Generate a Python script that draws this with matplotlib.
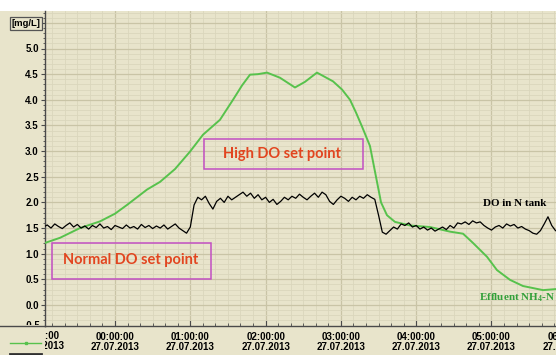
import numpy as np
import matplotlib
matplotlib.use('Agg')
import matplotlib.pyplot as plt
from matplotlib.patches import Rectangle
from matplotlib.lines import Line2D
from matplotlib.transforms import Bbox, TransformedBbox
from matplotlib.ticker import FixedLocator, MultipleLocator

plt.rcParams['mathtext.fontset'] = 'custom'
plt.rcParams['mathtext.rm'] = 'Liberation Serif:bold'
plt.rcParams['mathtext.bf'] = 'Liberation Serif:bold'

# ---------------- data ----------------
# Effluent NH4-N [mg/L], time in hours after 00:00:00 27.07.2013
nh4_time_h = [-0.930, -0.730, -0.465, -0.199, 0.000, 0.159, 0.425, 0.598, 0.797, 0.996,
              1.169, 1.394, 1.567, 1.687, 1.793, 1.899, 2.019, 2.191, 2.390, 2.523,
              2.682, 2.895, 3.015, 3.121, 3.201, 3.280, 3.386, 3.466, 3.533, 3.612,
              3.718, 3.918, 4.183, 4.449, 4.622, 4.754, 4.940, 5.073, 5.246, 5.418,
              5.684, 5.857]
nh4_mgL = [1.21, 1.31, 1.50, 1.63, 1.78, 1.95, 2.25, 2.40, 2.65, 2.99,
           3.32, 3.61, 4.00, 4.28, 4.49, 4.50, 4.53, 4.43, 4.24, 4.35,
           4.53, 4.36, 4.20, 4.00, 3.75, 3.48, 3.10, 2.50, 2.00, 1.75,
           1.62, 1.55, 1.52, 1.43, 1.39, 1.21, 0.94, 0.68, 0.49, 0.37,
           0.29, 0.31]

# DO in N tank [mg/L], sampled every 0.05 h starting at -0.95 h
do_start_h = -0.95
do_step_h = 0.05
do_mgL = [1.52, 1.56, 1.50, 1.58, 1.53, 1.49, 1.55, 1.60, 1.52, 1.57,
          1.50, 1.54, 1.48, 1.55, 1.51, 1.58, 1.50, 1.53, 1.47, 1.55,
          1.52, 1.49, 1.56, 1.50, 1.53, 1.48, 1.57, 1.51, 1.55, 1.49,
          1.54, 1.50, 1.56, 1.48, 1.53, 1.58, 1.50, 1.45, 1.40, 1.52,
          1.95, 2.10, 2.05, 2.12, 1.98, 1.87, 2.02, 2.08, 2.00, 2.12,
          2.05, 2.10, 2.15, 2.20, 2.12, 2.18, 2.08, 2.15, 2.05, 2.10,
          2.00, 2.06, 1.96, 2.02, 2.10, 2.05, 2.12, 2.08, 2.16, 2.10,
          2.05, 2.12, 2.18, 2.10, 2.20, 2.15, 2.02, 1.96, 2.05, 2.12,
          2.08, 2.02, 2.10, 2.05, 2.12, 2.08, 2.15, 2.10, 2.06,
          1.75, 1.42, 1.38, 1.45, 1.52, 1.48, 1.58, 1.55, 1.60, 1.52,
          1.55, 1.48, 1.52, 1.46, 1.50, 1.44, 1.48, 1.52, 1.47, 1.55,
          1.50, 1.60, 1.58, 1.62, 1.57, 1.64, 1.60, 1.62, 1.55, 1.50,
          1.46, 1.52, 1.55, 1.50, 1.58, 1.54, 1.57, 1.50, 1.53, 1.48,
          1.45, 1.40, 1.38, 1.45, 1.58, 1.72, 1.55, 1.45, 1.42]
do_time_h = do_start_h + do_step_h * np.arange(len(do_mgL))

x_tick_hours = [0, 1, 2, 3, 4, 5, 6]
x_tick_labels = ['00:00:00\n27.07.2013', '01:00:00\n27.07.2013', '02:00:00\n27.07.2013',
                 '03:00:00\n27.07.2013', '04:00:00\n27.07.2013', '05:00:00\n27.07.2013',
                 '06:00:00\n27.07.2013']
prev_tick_label = '23:00:00\n26.07.2013'
y_tick_values = [-0.5, 0.0, 0.5, 1.0, 1.5, 2.0, 2.5, 3.0, 3.5, 4.0, 4.5, 5.0, 5.5]
y_unit = '[mg/L]'

# ---------------- style ----------------
W, H = 556, 355
BEIGE = '#e8e4cb'
GRID_MAJ = '#c9c4a6'
GRID_MIN = '#dad6bc'
SPINE = '#4a4a4a'
GREEN = '#57c24c'
TXT_GREEN = '#33a03a'
RED = '#e2451f'
MAGENTA = '#c24fc2'
tick_font = dict(family=['Liberation Sans', 'DejaVu Sans'], weight='bold', size=7)

fig = plt.figure(figsize=(W / 100, H / 100), dpi=100)
fig.patch.set_facecolor('white')
fig.add_artist(Rectangle((0, 0), 1, 1 - 11 / H, transform=fig.transFigure,
                         facecolor=BEIGE, edgecolor='none', zorder=-10))

ax_left, ax_right, ax_top, ax_bot = 45, 620, 11, 326
ax = fig.add_axes([ax_left / W, (H - ax_bot) / H, (ax_right - ax_left) / W, (ax_bot - ax_top) / H])
ax.set_facecolor(BEIGE)

px_per_h = 75.3
x0_px = 115
px_per_unit = 51.3
y0_px = 305
ax.set_xlim((ax_left - x0_px) / px_per_h, (ax_right - x0_px) / px_per_h)
ax.set_ylim((y0_px - ax_bot) / px_per_unit, (y0_px - ax_top) / px_per_unit)

ax.plot(nh4_time_h, nh4_mgL, color=GREEN, lw=1.4, zorder=4)
ax.plot(do_time_h, do_mgL, color='black', lw=0.9, zorder=5)

# ticks & grid
ax.xaxis.set_major_locator(FixedLocator(x_tick_hours))
ax.set_xticklabels(x_tick_labels, **tick_font, linespacing=1.05)
ax.xaxis.set_minor_locator(MultipleLocator(1 / 6))
ax.yaxis.set_major_locator(FixedLocator(y_tick_values))
ax.set_yticklabels(['' if v > 5.2 else f'{v:.1f}' for v in y_tick_values], **tick_font)
ax.yaxis.set_minor_locator(MultipleLocator(0.1))
ax.tick_params(axis='x', which='major', direction='in', length=4, width=0.8, color=SPINE, pad=4)
ax.tick_params(axis='x', which='minor', direction='in', length=2, width=0.6, color=SPINE)
ax.tick_params(axis='y', which='major', direction='out', length=3, width=0.8, color=SPINE, pad=1.5)
ax.tick_params(axis='y', which='minor', direction='out', length=1.5, width=0.6, color=SPINE)
ax.grid(which='major', color=GRID_MAJ, lw=0.9, zorder=0)
ax.grid(which='minor', color=GRID_MIN, lw=0.6, zorder=0)
ax.set_axisbelow(True)
for s in ['top', 'right']:
    ax.spines[s].set_visible(False)
for s in ['left', 'bottom']:
    ax.spines[s].set_color(SPINE)
    ax.spines[s].set_linewidth(1.0)

# extend x axis line into the left strip
fig.add_artist(Line2D([0, ax_left / W], [(H - ax_bot) / H] * 2, transform=fig.transFigure,
                      color=SPINE, lw=1.0))

# partially hidden labels
clip_x = TransformedBbox(Bbox.from_extents(ax_left / W, 0, 1, 1), fig.transFigure)
t = fig.text((x0_px - px_per_h) / W, (H - 331) / H, prev_tick_label, ha='center', va='top',
             linespacing=1.05, **tick_font)
t.set_clip_box(clip_x)
t.set_clip_on(True)
clip_y = TransformedBbox(Bbox.from_extents(0, (H - ax_bot + 1.5) / H, 1, 1), fig.transFigure)
t2 = fig.text(40.5 / W, (H - 321) / H, '-0.5', ha='right', va='top', **tick_font)
t2.set_clip_box(clip_y)
t2.set_clip_on(True)

# unit box
fig.text(26 / W, (H - 23.5) / H, y_unit, ha='center', va='center',
         family=['Liberation Sans', 'DejaVu Sans'], weight='bold', size=6.8,
         bbox=dict(boxstyle='square,pad=0.18', facecolor=BEIGE, edgecolor='#555555', lw=0.9))

# legend strip (bottom left)
fig.add_artist(Line2D([10 / W, 41 / W], [(H - 343) / H] * 2, transform=fig.transFigure,
                      color=GREEN, lw=1.0))
fig.add_artist(Line2D([25.5 / W], [(H - 343) / H], transform=fig.transFigure,
                      color=GREEN, marker='s', markersize=2, lw=0))
fig.add_artist(Line2D([10 / W, 41 / W], [(H - 354) / H] * 2, transform=fig.transFigure,
                      color='#303030', lw=2.0))

# annotation boxes
def px2data(px, py):
    return (px - x0_px) / px_per_h, (y0_px - py) / px_per_unit

for (bx0, by0, bx1, by1) in [(204, 139, 363, 169), (52, 243, 211, 279)]:
    (dx0, dy1) = px2data(bx0, by0)
    (dx1, dy0) = px2data(bx1, by1)
    ax.add_patch(Rectangle((dx0, dy0), dx1 - dx0, dy1 - dy0, facecolor='none',
                           edgecolor=MAGENTA, lw=1.1, zorder=6))

lab_font = dict(family=['Lato', 'DejaVu Sans'], weight='bold', size=10.5, color=RED)
ax.text(*px2data(282, 154), 'High DO set point', ha='center', va='center', zorder=7, **lab_font)
ax.text(*px2data(131, 260), 'Normal DO set point', ha='center', va='center', zorder=7, **lab_font)

ser_font = dict(family=['Liberation Serif', 'DejaVu Serif'], weight='bold', size=8)
ax.text(*px2data(515, 204), 'DO in N tank', ha='center', va='center', color='black', zorder=7, **ser_font)
ax.text(*px2data(517, 298), 'Effluent NH$_4$-N', ha='center', va='center', color=TXT_GREEN, zorder=7, **ser_font)

fig.savefig('out.png', dpi=100, facecolor=fig.get_facecolor())
